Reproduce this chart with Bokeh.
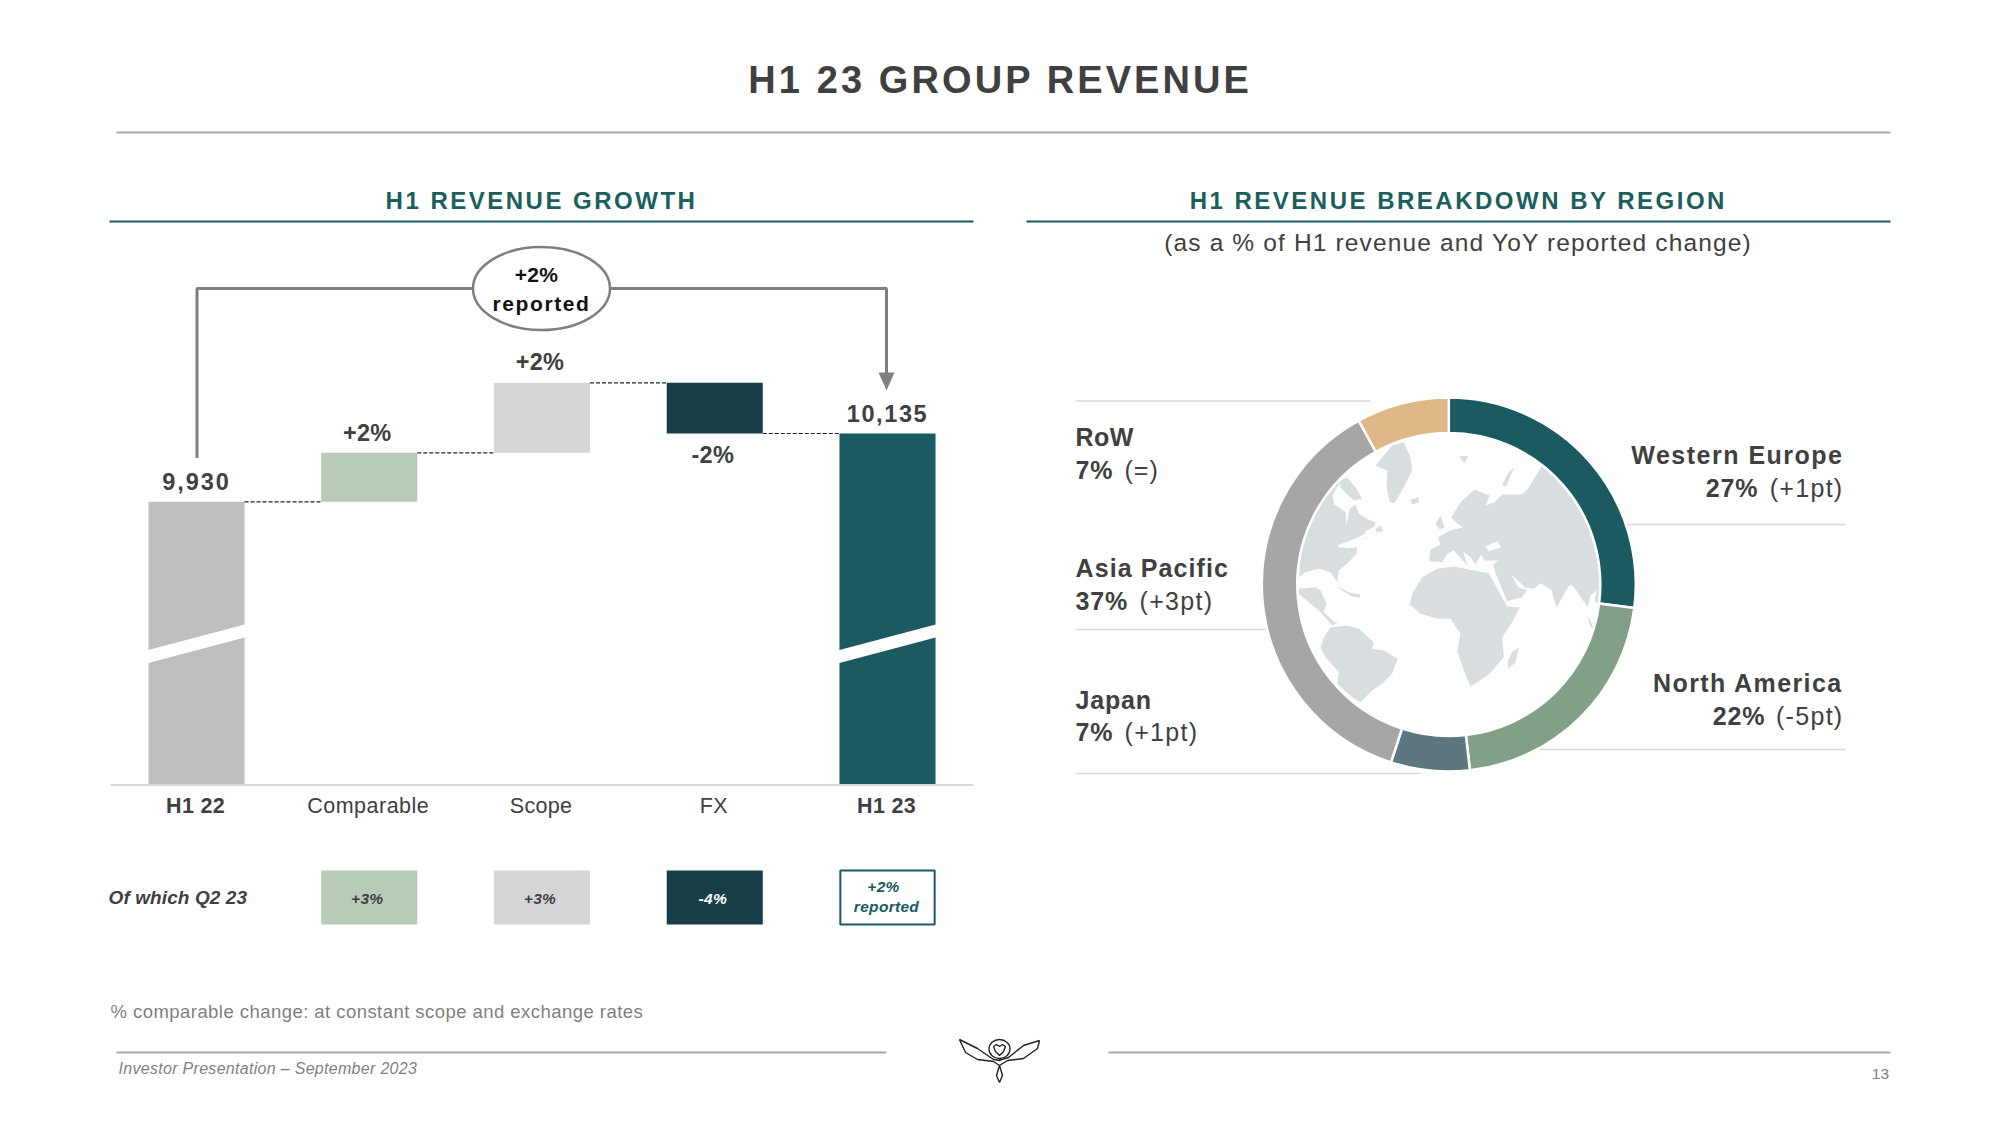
import json
from math import pi
from bokeh.plotting import figure
from bokeh.models import Range1d
from bokeh.core.properties import value
from bokeh.embed import file_html
from bokeh.resources import INLINE

# ---- data -------------------------------------------------------------
STEP_LABELS = ["H1 22", "Comparable", "Scope", "FX", "H1 23"]
H1_22 = 9930
H1_23 = 10135
STEP_DELTAS = [147, 210, -152]
DELTA_TEXT = ["+2%", "+2%", "-2%"]
TOTAL_TEXT = ["9,930", "10,135"]
Q2_TEXT = ["+3%", "+3%", "-4%"]
REGIONS = ["Western Europe", "North America", "Japan", "Asia Pacific", "RoW"]
REGION_SHARE = [27, 21.2, 6.8, 37, 8]   # drawn ring angles
REGION_PCT = ["27%", "22%", "7%", "37%", "7%"]
REGION_CHG = ["(+1pt)", "(-5pt)", "(+1pt)", "(+3pt)", "(=)"]
REGION_COLORS = ["#1a5a60", "#829f88", "#5c787e", "#a6a6a6", "#deb887"]
STEP_COLORS = ["#bfbfbf", "#b8cab8", "#d4d5d7", "#163f49", "#1a5a60"]

FONT = value("Liberation Sans")
DARK = "#404040"
GREEN = "#1a5a60"

# letter spacing by text, applied to the svg text after rendering
SPACING = {
    "H1 23 GROUP REVENUE": 3.1, "H1 REVENUE GROWTH": 2.5, "H1 REVENUE BREAKDOWN BY REGION": 2.5,
    "(as a % of H1 revenue and YoY reported change)": 1.15,
    "9,930": 1.9, "10,135": 1.6, "Western Europe": 1.5, "North America": 1.4, "Asia Pacific": 1.1,
    "Japan": 0.8, "RoW": 0.5, "27%": 0.9, "22%": 0.9, "37%": 0.9, "7%": 0.9,
    "(+1pt)": 1.3, "(-5pt)": 1.3, "(+3pt)": 1.3, "(=)": 1.0, "Comparable": 0.5, "reported|21": 1.6,
    "Of which Q2 23": 0.1, "% comparable change: at constant scope and exchange rates": 0.45,
}
DEFAULT_SPACING = 0.3
BASELINE_FIX = 0.34     # bokeh's svg text sits this fraction of its size below the given y


def spacing(t, size):
    return SPACING.get(f"{t}|{size}", SPACING.get(t, DEFAULT_SPACING))


def x_shift(t, size, align="center"):
    total = spacing(t, size) * len(t)
    return {"center": -total / 2, "right": -total, "left": 0}[align]


# ---- figure: main range is page pixels ---------------------------------
W, H = 1984, 1109
p = figure(width=W, height=H, x_range=Range1d(0, W), y_range=Range1d(H, 0),
           output_backend="svg", toolbar_location=None, min_border=0, outline_line_color=None,
           x_axis_type=None, y_axis_type=None, background_fill_color="white", border_fill_color="white")
p.grid.visible = False

X0, DX = 196.0, 172.75
p.extra_x_ranges["step"] = Range1d((0 - X0) / DX, (W - X0) / DX)
Y_REF, V_PER_PX = 433.0, 3.0
p.extra_y_ranges["rev"] = Range1d(H1_23 + (Y_REF - H) * V_PER_PX, H1_23 + (Y_REF - 0) * V_PER_PX)


def txt(x, y, t, size, color=DARK, weight="normal", style="normal", align="center"):
    fs = "bold" if (weight == "bold" and style == "normal") else \
        (("bold " if weight == "bold" else "") + style)
    p.text(x=[x + x_shift(t, size, align)], y=[y - BASELINE_FIX * size], text=[t], text_font=FONT,
           text_font_size=f"{size}px", text_color=color, text_font_style=fs,
           text_align=align, text_baseline="alphabetic")


def on_step(i, y_value, t, size, color=DARK, style="bold", dx=0, dy=0, range_y="rev"):
    """Text tied to a waterfall column (and, if range_y, to a revenue value)."""
    kw = {"y_range_name": range_y} if range_y else {}
    p.text(x=[i], y=[y_value], text=[t], text_font=FONT, text_font_size=f"{size}px", text_color=color,
           text_font_style=style, text_align="center", text_baseline="alphabetic",
           x_offset=[dx + x_shift(t, size)], y_offset=[dy - BASELINE_FIX * size], x_range_name="step", **kw)


def rule(x0, x1, y, color="#a6a6a6", w=2.0):
    p.line(x=[x0, x1], y=[y, y], line_color=color, line_width=w)


# ---- headings ----------------------------------------------------------
txt(1000, 92.5, "H1 23 GROUP REVENUE", 38, weight="bold")
rule(116, 1890, 132)
txt(541, 208, "H1 REVENUE GROWTH", 24, color="#1a5f5c", weight="bold")
txt(1458, 208, "H1 REVENUE BREAKDOWN BY REGION", 24, color="#1a5f5c", weight="bold")
rule(109, 973, 221, GREEN)
rule(1026, 1890, 221, GREEN)
txt(1458, 250, "(as a % of H1 revenue and YoY reported change)", 24.5)

# ---- waterfall ---------------------------------------------------------
levels = [H1_22]
for d in STEP_DELTAS:
    levels.append(levels[-1] + d)
BASE = H1_23 + (Y_REF - 784) * V_PER_PX
BAR_W = 0.556
bottoms = [BASE] + [min(levels[i], levels[i + 1]) for i in range(3)] + [BASE]
tops = [H1_22] + [max(levels[i], levels[i + 1]) for i in range(3)] + [H1_23]
xs = list(range(5))
p.vbar(x=xs, bottom=bottoms, top=tops, width=BAR_W, fill_color=STEP_COLORS, line_color=None,
       x_range_name="step", y_range_name="rev")
# connectors
p.segment(x0=[i + BAR_W / 2 for i in range(4)], x1=[i + 1 - BAR_W / 2 for i in range(4)],
          y0=levels, y1=levels, line_color="#222222", line_width=1.2, line_dash="4 2",
          x_range_name="step", y_range_name="rev")
# axis break
for x0 in (146, 837):
    p.patch(x=[x0, x0 + 100, x0 + 100, x0], y=[650, 623.5, 636.5, 663], fill_color="white", line_color=None)
rule(110, 973, 784.5, "#d9d9d9", 2)

# bracket
p.line(x=[196.5, 196.5, 475], y=[457.5, 288, 288], line_color="#7f7f7f", line_width=3)
p.line(x=[610, 886, 886], y=[288, 288, 375], line_color="#7f7f7f", line_width=3)
p.patch(x=[878, 894, 886], y=[372, 372, 390], fill_color="#7f7f7f", line_color=None)
p.ellipse(x=[541], y=[288], width=[137], height=[83], fill_color="white", line_color="#7f7f7f", line_width=2.5)
txt(536, 281, "+2%", 21, color="#111111", weight="bold")
txt(541, 310, "reported", 21, color="#111111", weight="bold")

# labels over bars
on_step(0, H1_22, TOTAL_TEXT[0], 23.5, dy=-12)
on_step(4, H1_23, TOTAL_TEXT[1], 23.5, dy=-12)
on_step(1, levels[1], DELTA_TEXT[0], 23.5, dx=-2, dy=-12)
on_step(2, levels[2], DELTA_TEXT[1], 23.5, dx=-2, dy=-12.5)
on_step(3, levels[3], DELTA_TEXT[2], 23.5, dx=-2, dy=29)
# category labels
for i, lab in enumerate(STEP_LABELS):
    on_step(i, 813, lab, 21.5, style="bold" if i in (0, 4) else "normal", dx=-1, range_y=None)

# ---- Q2 row ------------------------------------------------------------
txt(108, 903, "Of which Q2 23", 19, weight="bold", style="italic", align="left")
p.vbar(x=[1, 2, 3], bottom=[870] * 3, top=[924] * 3, width=BAR_W, fill_color=STEP_COLORS[1:4], line_color=None,
       x_range_name="step")
p.vbar(x=[4], bottom=[870], top=[924], width=BAR_W - 0.01, fill_color="white", line_color=GREEN, line_width=2,
       x_range_name="step")
for i, t in enumerate(Q2_TEXT):
    on_step(i + 1, 903, t, 15.5, color="white" if i == 2 else DARK, style="bold italic", dx=-2, range_y=None)
txt(883, 891, "+2%", 15.5, color=GREEN, weight="bold", style="italic")
txt(886, 911, "reported", 15.5, color=GREEN, weight="bold", style="italic")

# ---- footer ------------------------------------------------------------
txt(110, 1017, "% comparable change: at constant scope and exchange rates", 18.5, color="#7f7f7f", align="left")
rule(116, 886, 1052)
rule(1108, 1890, 1052)
txt(118, 1073, "Investor Presentation \u2013 September 2023", 16, color="#7f7f7f", style="italic", align="left")
txt(1889, 1079, "13", 15.5, color="#7f7f7f", align="right")

# logo (decoration), in page pixels
LOGO_LINES = [
    [(959, 1039), (977, 1048), (993, 1059), (1000, 1060)],
    [(959, 1039), (965, 1052), (977, 1059), (993, 1061), (999, 1065)],
    [(1039, 1040), (1023, 1045), (1008, 1057), (998, 1060)],
    [(1039, 1040), (1037, 1048), (1023, 1058), (1007, 1060), (999, 1065)],
    [(999, 1065), (996, 1075), (999, 1082), (1002, 1075), (999, 1065)],
    [(993, 1046), (996, 1044), (999, 1046), (1002, 1044), (1005, 1046), (1003, 1051), (999, 1055), (995, 1051), (993, 1046)],
]
p.multi_line(xs=[[a for a, _ in l] for l in LOGO_LINES], ys=[[b for _, b in l] for l in LOGO_LINES],
             line_color="#222222", line_width=1.4)
p.ellipse(x=[999], y=[1048.5], width=[21], height=[19], fill_color=None, line_color="#222222", line_width=1.3)

# ---- world map (decoration); outlines in crop coordinates --------------
MAP_LAND = [
    # North America
    [(176, 590), (180, 520), (198, 450), (222, 397), (258, 345), (288, 310), (306, 300), (290, 320), (276, 345),
     (282, 372), (315, 395), (318, 435), (327, 385), (345, 372), (355, 400), (385, 418), (406, 425), (400, 440),
     (378, 450), (368, 465), (385, 470), (360, 480), (320, 488), (295, 498), (320, 503), (350, 500), (348, 520),
     (320, 550), (295, 570), (290, 605), (270, 575), (235, 565), (195, 575)],
    # Arctic islands
    [(300, 300), (320, 290), (345, 320), (365, 355), (340, 360), (318, 340), (300, 320)],
    # Newfoundland
    [(405, 445), (420, 435), (428, 452), (408, 455)],
    # Greenland
    [(405, 255), (430, 225), (455, 195), (490, 185), (510, 230), (515, 270), (490, 320), (462, 368), (448, 365),
     (438, 320), (440, 270)],
    # Iceland
    [(508, 358), (535, 350), (535, 365), (515, 372)],
    # Great Britain
    [(585, 430), (600, 405), (612, 440), (598, 447)],
    # Eurasia
    [(566, 542), (570, 508), (600, 492), (592, 470), (628, 450), (668, 440), (645, 425), (632, 410), (660, 365),
     (702, 327), (748, 345), (735, 375), (762, 365), (785, 342), (845, 342), (862, 325), (905, 255), (965, 290),
     (1030, 380), (1085, 500), (1100, 660), (1078, 672), (1062, 662), (1068, 630), (1050, 645), (1042, 680),
     (1000, 620), (988, 612), (965, 650), (948, 682), (932, 628), (900, 608), (880, 625), (855, 622), (812, 582),
     (835, 622), (860, 628), (845, 650), (800, 662), (765, 578), (758, 552), (772, 540), (732, 540), (722, 522),
     (705, 552), (690, 530), (668, 512), (680, 555), (640, 510), (620, 520), (605, 545)],
    # Africa
    [(508, 672), (515, 640), (545, 590), (590, 565), (640, 558), (700, 570), (745, 578), (772, 628), (800, 678),
     (838, 680), (815, 725), (785, 770), (790, 830), (745, 882), (690, 918), (670, 870), (650, 810), (660, 760),
     (630, 715), (590, 715), (540, 700)],
    # Madagascar
    [(815, 815), (835, 800), (825, 845), (803, 865), (802, 840)],
    # Central America
    [(172, 625), (225, 620), (240, 630), (258, 670), (250, 695), (282, 725), (295, 725), (275, 735), (240, 695),
     (205, 665), (175, 640)],
    # Cuba, Hispaniola
    [(285, 615), (325, 635), (358, 642), (358, 652), (335, 648), (305, 630)],
    # South America
    [(270, 740), (320, 735), (355, 745), (400, 785), (395, 805), (430, 810), (472, 835), (455, 880), (425, 910),
     (395, 930), (360, 965), (335, 950), (290, 910), (295, 875), (255, 830), (240, 800), (250, 770)],
    # Arctic sliver
    [(785, 315), (800, 282), (822, 258), (808, 290), (798, 318)],
    # Svalbard
    [(655, 228), (684, 226), (672, 248)],
    # Indochina islands
    [(1040, 705), (1052, 725), (1062, 752), (1048, 735)],
]
MAP_WATER = [
    [(735, 497), (770, 482), (782, 500), (745, 512)],   # Black Sea
    [(290, 495), (340, 476), (378, 458), (386, 468), (345, 487), (300, 502)],  # Great Lakes
]
mx = lambda pts: [1240 + a / 3 for a, _ in pts]
my = lambda pts: [380 + b / 3 for _, b in pts]
p.patches(xs=[mx(q) for q in MAP_LAND], ys=[my(q) for q in MAP_LAND], fill_color="#d8dedf", line_color=None)
p.patches(xs=[mx(q) for q in MAP_WATER], ys=[my(q) for q in MAP_WATER], fill_color="white", line_color=None)

# ---- region rules, then donut over them --------------------------------
for x0, x1, y in [(1075, 1370, 400.5), (1075, 1290, 629), (1075, 1420, 773), (1600, 1845, 524), (1535, 1845, 749)]:
    rule(x0, x1, y, "#d9d9d9", 1.5)

angles = [pi / 2]
for s in REGION_SHARE:
    angles.append(angles[-1] - 2 * pi * s / sum(REGION_SHARE))
p.annular_wedge(x=1448.3, y=584, inner_radius=151.5, outer_radius=187, start_angle=angles[:-1], end_angle=angles[1:],
                direction="clock", fill_color=REGION_COLORS, line_color="white", line_width=2.5)

# ---- region labels -----------------------------------------------------
NAME_Y = {"Western Europe": 463, "North America": 691, "Japan": 708, "Asia Pacific": 576, "RoW": 445}
PCT_DY = {"Western Europe": 33, "North America": 33, "Japan": 32, "Asia Pacific": 33, "RoW": 32.5}
CHG_X = {"Japan": 1124, "Asia Pacific": 1139, "RoW": 1124}
PCT_X_R = {"Western Europe": 1758, "North America": 1765}
for name, pct, chg in zip(REGIONS, REGION_PCT, REGION_CHG):
    y = NAME_Y[name]
    y2 = y + PCT_DY[name]
    if name in PCT_X_R:
        txt(1843, y, name, 25, weight="bold", align="right")
        txt(PCT_X_R[name], y2, pct, 25, weight="bold", align="right")
        txt(1843, y2, chg, 25, align="right")
    else:
        txt(1075, y, name, 25, weight="bold", align="left")
        txt(1075, y2, pct, 25, weight="bold", align="left")
        txt(CHG_X[name], y2, chg, 25, align="left")

# ---- page --------------------------------------------------------------
html = file_html(p, INLINE)
script = """<script>
const S = %s, D = %s;
function walk(r){r.querySelectorAll('*').forEach(e=>{
  if(e.tagName.toLowerCase()==='text'){
    const t=e.textContent, k=t+'|'+parseFloat(getComputedStyle(e).fontSize);
    const v=(k in S)?S[k]:((t in S)?S[t]:D);
    e.style.letterSpacing=v+'px';}
  if(e.shadowRoot)walk(e.shadowRoot);});}
setInterval(()=>walk(document),100);
</script></body>""" % (json.dumps(SPACING), DEFAULT_SPACING)
html = html.replace("</body>", script)
open("out.html", "w").write(html)
